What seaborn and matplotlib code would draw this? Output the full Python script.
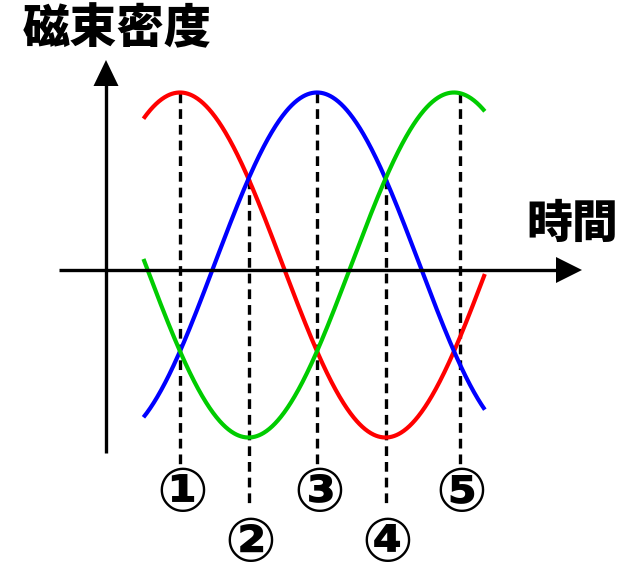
import numpy as np
import pandas as pd
import matplotlib
matplotlib.use("Agg")
import matplotlib.pyplot as plt
import seaborn as sns

# ---- data ----
phase_names = ["R", "B", "G"]
peak_deg = [0, 120, 240]          # angle at which each phase peaks
amplitude = [1.0, 1.0, 1.0]
colors = ["#FF0000", "#0000FF", "#00CC00"]
theta_start, theta_end = -32, 267  # visible span of the curves (degrees)

marker_deg = [0, 60, 120, 180, 245]
marker_top = [1.0, 0.5, 1.0, 0.5, 1.0]
marker_labels = ["①", "②", "③", "④", "⑤"]
label_row = [0, 1, 0, 1, 0]        # 0 = upper row, 1 = lower row

y_label = "磁束密度"
x_label = "時間"

# ---- style ----
sns.set_style("white")
plt.rcParams["font.family"] = ["Noto Sans CJK JP", "DejaVu Sans"]
plt.rcParams["lines.scale_dashes"] = False
plt.rcParams["text.color"] = "black"

W, H = 636, 568
fig = plt.figure(figsize=(W / 100, H / 100), dpi=100)
ax = fig.add_axes([0, 0, 1, 1])

# pixel -> data helpers (layout only)
S = 411 / 360.0
def px_x(px):
    return (px - 180) / S
def px_y(py):
    return (265 - py) / 172.5

ax.set_xlim(px_x(0), px_x(W))
ax.set_ylim(px_y(H), px_y(0))
ax.axis("off")

# ---- curves ----
theta = np.linspace(theta_start, theta_end, 600)
rows = []
for name, pk, a in zip(phase_names, peak_deg, amplitude):
    vals = a * np.cos(np.deg2rad(theta - pk))
    rows.append(pd.DataFrame({"theta": theta, "B": vals, "phase": name}))
df = pd.concat(rows, ignore_index=True)
sns.lineplot(data=df, x="theta", y="B", hue="phase", palette=colors,
             linewidth=3.0, legend=False, ax=ax, sort=False,
             solid_capstyle="butt")

# ---- dashed guide lines ----
bottoms = [465, 508]
for d, top, row in zip(marker_deg, marker_top, label_row):
    ax.plot([d, d], [top, px_y(bottoms[row])], color="black", lw=2.4,
            linestyle=(0, (7.0, 4.3)), zorder=1)

# ---- axes arrows ----
lw_axis = 2.4
ax.plot([px_x(59), px_x(560)], [px_y(270), px_y(270)], color="black", lw=lw_axis,
        solid_capstyle="butt", zorder=3)
ax.fill([px_x(582), px_x(556), px_x(556)], [px_y(270), px_y(257), px_y(283)],
        color="black", lw=0, zorder=3)
ax.plot([px_x(106), px_x(106)], [px_y(453), px_y(84)], color="black", lw=lw_axis,
        solid_capstyle="butt", zorder=3)
ax.fill([px_x(106), px_x(93.5), px_x(118.5)], [px_y(60), px_y(86), px_y(86)],
        color="black", lw=0, zorder=3)

# ---- texts ----
ax.text(px_x(117), px_y(29), y_label, fontsize=34, fontweight="black",
        color="black", ha="center", va="center")
ax.text(px_x(572), px_y(224), x_label, fontsize=33, fontweight="black",
        color="black", ha="center", va="center")

label_y = [495, 544]
for d, lab, row in zip(marker_deg, marker_labels, label_row):
    ax.text(d + px_x(182) - px_x(180), px_y(label_y[row]), lab, fontsize=44,
            fontweight="bold", ha="center", va="center", color="black",
            family=["DejaVu Sans", "Noto Sans CJK JP"])

fig.savefig("out.png", dpi=100)
